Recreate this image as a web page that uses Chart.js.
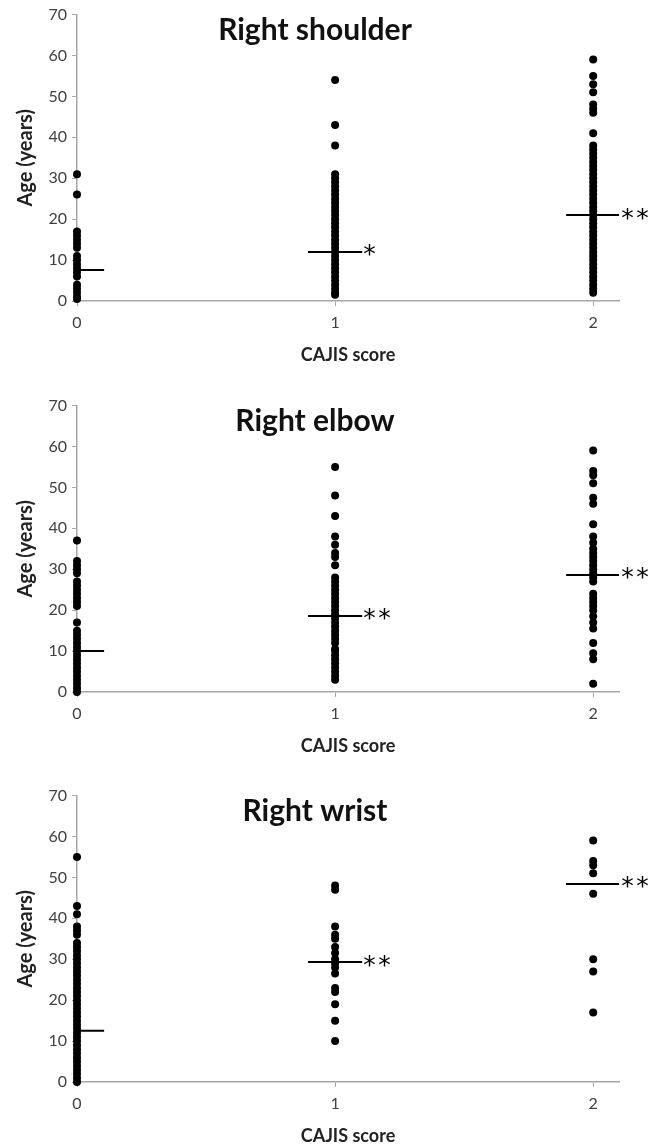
<!DOCTYPE html>
<html>
<head>
<meta charset="utf-8">
<script src="https://cdn.jsdelivr.net/npm/chart.js@4.4.1/dist/chart.umd.min.js"></script>
<style>
  body { margin: 0; background: #fff; }
  canvas { position: absolute; left: 0; }
</style>
</head>
<body>
<canvas id="shoulderChart" width="662" height="390" style="top:0px"></canvas>
<canvas id="elbowChart" width="662" height="390" style="top:391px"></canvas>
<canvas id="wristChart" width="662" height="365" style="top:781px"></canvas>
<script>
const categories = [0, 1, 2]
const yTicks = [0, 10, 20, 30, 40, 50, 60, 70]
const xLabel = 'CAJIS score'
const yLabel = 'Age (years)'

// ages per CAJIS score
const shoulder0 = [31, 26, 17, 16, 15, 14, 13, 11, 10, 9, 8, 7, 6, 4, 3, 2, 1, 0.5]
const shoulder1 = [54, 43, 38, 31, 30, 29, 28, 27, 26, 25, 24, 23, 22, 21, 20, 19, 18, 17, 16, 15, 14, 13, 12, 11, 10, 9, 8, 7, 6, 5, 4, 3, 2, 1.5]
const shoulder2 = [59, 55, 53, 51, 48, 47, 46, 41, 38, 37, 36, 35, 34, 33, 32, 31, 30, 29, 28, 27, 26, 25, 24, 23, 22, 21, 20, 19, 18, 17, 16, 15, 14, 13, 12, 11, 10, 9, 8, 7, 6, 5, 4, 3, 2]

const elbow0 = [37, 32, 31, 30, 29, 27, 26, 25, 24, 23, 22, 21, 17, 15, 14, 13, 12, 11, 10, 9, 8, 7, 6, 5, 4, 3, 2, 1, 0]
const elbow1 = [55, 48, 43, 38, 36, 34, 33, 31, 28, 27, 26, 25, 24, 23, 22, 21, 20, 19, 18, 17, 16, 15, 14, 13, 12, 10.5, 10, 9, 8, 7, 6, 5, 4, 3]
const elbow2 = [59, 54, 53, 51, 47.5, 46, 41, 38, 36.5, 35, 34, 33, 32, 31, 30, 29, 28, 27, 24, 23, 22, 21, 20, 18.5, 17, 15.5, 12, 9.5, 8, 2]

const wrist0 = [55, 43, 41, 38, 37, 36, 34, 33, 32, 31, 30, 29, 28, 27, 26, 25, 24, 23, 22, 21, 20, 19, 18, 17, 16, 15, 14, 13, 12, 11, 10, 9, 8, 7, 6, 5, 4, 3, 2, 1, 0]
const wrist1 = [48, 47, 38, 36, 35, 33, 31.5, 30, 29, 28, 26.5, 23, 22, 19, 15, 10]
const wrist2 = [59, 54, 53, 51, 46, 30, 27, 17]

const shoulderMeans = [7.6, 12, 21]
const elbowMeans = [10, 18.6, 28.6]
const wristMeans = [12.5, 29.3, 48.4]

const shoulderMarks = ['', '*', '**']
const elbowMarks = ['', '**', '**']
const wristMarks = ['', '**', '**']

const halfWidth = 0.105
const axisGrey = '#a6a6a6'
const fontFamily = 'Lato, "Open Sans", sans-serif'

const extras = {
    id: 'extras',
    afterDatasetsDraw(chart, args, opts) {
        const { ctx, chartArea, scales } = chart
        ctx.save()
        ctx.fillStyle = '#111'
        ctx.font = 'bold 30px ' + fontFamily
        ctx.textAlign = 'center'
        ctx.textBaseline = 'middle'
        ctx.fillText(opts.title, chartArea.left + 238, chartArea.top + 16)

        ctx.fillStyle = '#000'
        ctx.font = '25px "DejaVu Sans"'
        ctx.textAlign = 'left'
        opts.marks.forEach((m, i) => {
            const x = scales.x.getPixelForValue(categories[i] + halfWidth) + 1
            const y = scales.y.getPixelForValue(opts.means[i]) + 4
            for (let k = 0; k < m.length; k++) {
                ctx.fillText(m[k], x + k * 15, y)
            }
        })
        ctx.restore()
    }
}

function makeChart(id, title, groups, means, marks) {
    const canvas = document.getElementById(id)
    const points = []
    groups.forEach((vals, i) => {
        vals.forEach(v => points.push({ x: categories[i], y: v }))
    })

    const datasets = [{
        type: 'scatter',
        data: points,
        pointRadius: 4,
        pointHoverRadius: 4,
        borderWidth: 0,
        backgroundColor: '#000',
        clip: false,
        order: 1
    }]
    means.forEach((m, i) => {
        datasets.push({
            type: 'line',
            data: [{ x: categories[i] - halfWidth, y: m }, { x: categories[i] + halfWidth, y: m }],
            borderColor: '#000',
            borderWidth: 2,
            pointRadius: 0,
            order: 0
        })
    })

    new Chart(canvas, {
        type: 'scatter',
        data: { datasets: datasets },
        plugins: [extras],
        options: {
            responsive: false,
            animation: false,
            layout: { padding: { top: 6, right: 43, left: 0, bottom: canvas.height - 365 } },
            plugins: {
                legend: { display: false },
                tooltip: { enabled: false },
                extras: { title: title, means: means, marks: marks }
            },
            scales: {
                x: {
                    type: 'linear',
                    min: categories[0],
                    max: categories[categories.length - 1] + 0.1,
                    afterBuildTicks: s => { s.ticks = categories.map(v => ({ value: v })) },
                    afterFit: s => { s.height = 64 },
                    grid: { drawOnChartArea: false, tickLength: 5, color: axisGrey },
                    border: { color: axisGrey, width: 1.5 },
                    ticks: { padding: 7, color: '#404040', font: { family: fontFamily, size: 16 } },
                    title: {
                        display: true, text: xLabel, color: '#222',
                        padding: { top: 0, bottom: -1 },
                        font: { family: fontFamily, size: 18, weight: 'bold' }
                    }
                },
                y: {
                    min: yTicks[0],
                    max: yTicks[yTicks.length - 1],
                    afterBuildTicks: s => { s.ticks = yTicks.map(v => ({ value: v })) },
                    afterFit: s => { s.width = 77 },
                    grid: { drawOnChartArea: false, tickLength: 5, color: axisGrey },
                    border: { color: axisGrey, width: 1.5 },
                    ticks: { padding: 5, color: '#404040', font: { family: fontFamily, size: 16 } },
                    title: {
                        display: true, text: yLabel, color: '#222',
                        padding: { top: 14, bottom: 0 },
                        font: { family: fontFamily, size: 20, weight: 'bold' }
                    }
                }
            }
        }
    })
}

makeChart('shoulderChart', 'Right shoulder', [shoulder0, shoulder1, shoulder2], shoulderMeans, shoulderMarks)
makeChart('elbowChart', 'Right elbow', [elbow0, elbow1, elbow2], elbowMeans, elbowMarks)
makeChart('wristChart', 'Right wrist', [wrist0, wrist1, wrist2], wristMeans, wristMarks)
</script>
</body>
</html>
